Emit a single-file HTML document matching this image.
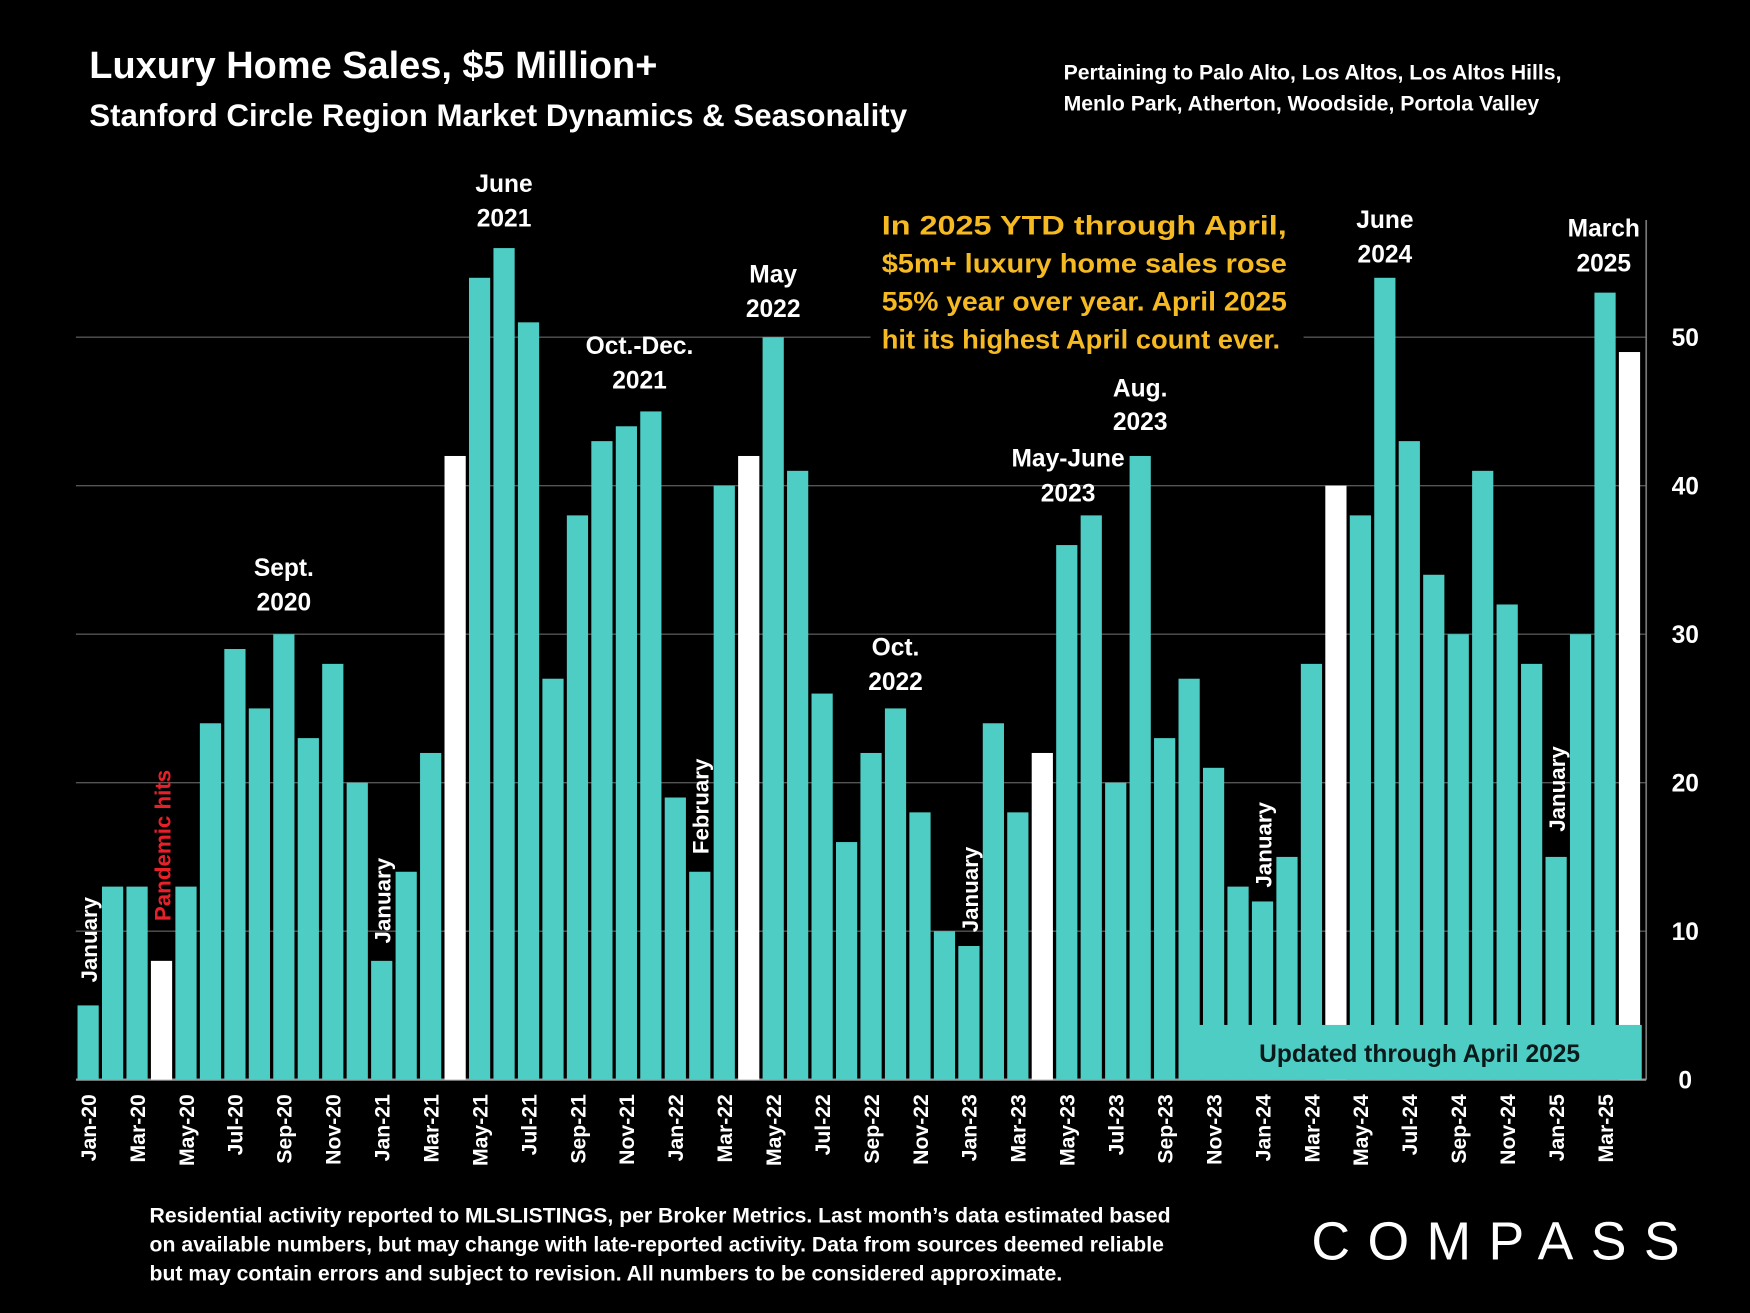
<!DOCTYPE html>
<html><head><meta charset="utf-8"><style>
html,body{margin:0;padding:0;background:#000;}
svg{display:block;font-family:"Liberation Sans",sans-serif;font-weight:bold;}
</style></head><body>
<svg id="chart" width="1750" height="1313" viewBox="0 0 1568 1176" preserveAspectRatio="none" xmlns="http://www.w3.org/2000/svg">
<rect width="1568" height="1176" fill="#000"/>
<text x="80" y="70" fill="#fff" font-size="34">Luxury Home Sales, $5 Million+</text>
<text x="80" y="113" fill="#fff" font-size="28">Stanford Circle Region Market Dynamics &amp; Seasonality</text>
<text x="953" y="71" fill="#fff" font-size="19">Pertaining to Palo Alto, Los Altos, Los Altos Hills,</text>
<text x="953" y="99" fill="#fff" font-size="19">Menlo Park, Atherton, Woodside, Portola Valley</text>
<g id="grid"></g>
<g id="bars"></g>
<g id="xlabels"></g>
<g id="ylabels"></g>
<g id="annos"></g>
<text fill="#fff" font-size="19"><tspan x="134" y="1095">Residential activity reported to MLSLISTINGS, per Broker Metrics. Last month’s data estimated based</tspan><tspan x="134" y="1121">on available numbers, but may change with late-reported activity. Data from sources deemed reliable</tspan><tspan x="134" y="1147">but may contain errors and subject to revision. All numbers to be considered approximate.</tspan></text>
<text x="1340" y="1128" fill="#fff" font-size="48" font-weight="normal" text-anchor="middle" textLength="330" lengthAdjust="spacing">COMPASS</text>
</svg>
<script>
const months=["Jan-20","Feb-20","Mar-20","Apr-20","May-20","Jun-20","Jul-20","Aug-20","Sep-20","Oct-20","Nov-20","Dec-20","Jan-21","Feb-21","Mar-21","Apr-21","May-21","Jun-21","Jul-21","Aug-21","Sep-21","Oct-21","Nov-21","Dec-21","Jan-22","Feb-22","Mar-22","Apr-22","May-22","Jun-22","Jul-22","Aug-22","Sep-22","Oct-22","Nov-22","Dec-22","Jan-23","Feb-23","Mar-23","Apr-23","May-23","Jun-23","Jul-23","Aug-23","Sep-23","Oct-23","Nov-23","Dec-23","Jan-24","Feb-24","Mar-24","Apr-24","May-24","Jun-24","Jul-24","Aug-24","Sep-24","Oct-24","Nov-24","Dec-24","Jan-25","Feb-25","Mar-25","Apr-25"];
const sales=[5,13,13,8,13,24,29,25,30,23,28,20,8,14,22,42,54,56,51,27,38,43,44,45,19,14,40,42,50,41,26,16,22,25,18,10,9,24,18,22,36,38,20,42,23,27,21,13,12,15,28,40,38,54,43,34,30,41,32,28,15,30,53,49];
const yTicks=[0,10,20,30,40,50];
const NS="http://www.w3.org/2000/svg";
const x0=68,x1=1471,y0=967,yPer=13.3;
const step=(x1-x0)/months.length, bw=19;
const xs=i=>x0+i*step+(step-bw)/2;
const xc=i=>x0+i*step+step/2;
const ys=v=>y0-v*yPer;
function mk(tag,attrs,parent,txt){const e=document.createElementNS(NS,tag);for(const k in attrs)e.setAttribute(k,attrs[k]);if(txt!==undefined)e.textContent=txt;document.getElementById(parent).appendChild(e);return e;}
yTicks.forEach(t=>{
 if(t>0){const l=mk('line',{x1:x0,x2:1475,y1:ys(t),y2:ys(t),stroke:'#555','stroke-width':1.2},'grid');
 
 }
 const tx=mk('text',{x:1510,y:ys(t)+8,fill:'#fff','font-size':22,'text-anchor':'middle'},'ylabels',t);
 
 
});
const ax=mk('line',{x1:1475,x2:1475,y1:197,y2:y0,stroke:'#777','stroke-width':1.5},'grid');


sales.forEach((v,i)=>{
 const white=months[i].startsWith('Apr');
 const r=mk('rect',{x:xs(i),y:ys(v),width:bw,height:v*yPer,fill:white?'#fff':'#4ecdc4'},'bars');
 
 
 if(i%2===0){const t=mk('text',{transform:`translate(${xc(i)+7},980) rotate(-90)`,fill:'#fff','font-size':19,'text-anchor':'end'},'xlabels',months[i]);
 
 }
});
const bl=mk('line',{x1:x0,x2:1475,y1:y0,y2:y0,stroke:'#999','stroke-width':2},'grid');


const ub=mk('rect',{x:1058,y:918,width:413,height:49,fill:'#4ecdc4'},'annos');


const ut=mk('text',{x:1272,y:951,fill:'#0a1a1a','font-size':22,'text-anchor':'middle'},'annos','Updated through April 2025');


const nb=mk('rect',{x:780,y:180,width:388,height:140,fill:'#000'},'annos');


const callout=["In 2025 YTD through April,","$5m+ luxury home sales rose","55% year over year. April 2025","hit its highest April count ever."];
callout.forEach((s,k)=>{const t=mk('text',{x:790,y:210+k*34,fill:'#f5b921','font-size':24,textLength:k<3?363:357,lengthAdjust:'spacingAndGlyphs'},'annos',s);
 
 });
const tops=[["June","2021",17,164,195],["May","2022",28,245,276],["Oct.-Dec.","2021",22,309,340],["Sept.","2020",8,508,539],["Oct.","2022",33,579,610],["May-June","2023",40,410,441],["Aug.","2023",43,347,377],["June","2024",53,196,227],["March","2025",62,204,235]];
tops.forEach(a=>{const cx=a[0]==="Oct.-Dec."?573:a[0]==="May-June"?957:a[0]==="March"?1437:xc(a[2]);
 [0,1].forEach(k=>{const t=mk('text',{x:cx,y:a[3+k]+8,fill:'#fff','font-size':22,'text-anchor':'middle'},'annos',a[k]);
 
 });});
const vert=[["January",0,880,'#fff'],["Pandemic hits",3,825,'#e8202a'],["January",12,845,'#fff'],["February",25,765,'#fff'],["January",36,835,'#fff'],["January",48,795,'#fff'],["January",60,745,'#fff']];
vert.forEach(a=>{const t=mk('text',{transform:`translate(${xc(a[1])+8},${a[2]}) rotate(-90)`,fill:a[3],'font-size':20},'annos',a[0]);
 
 });
</script>
</body></html>
